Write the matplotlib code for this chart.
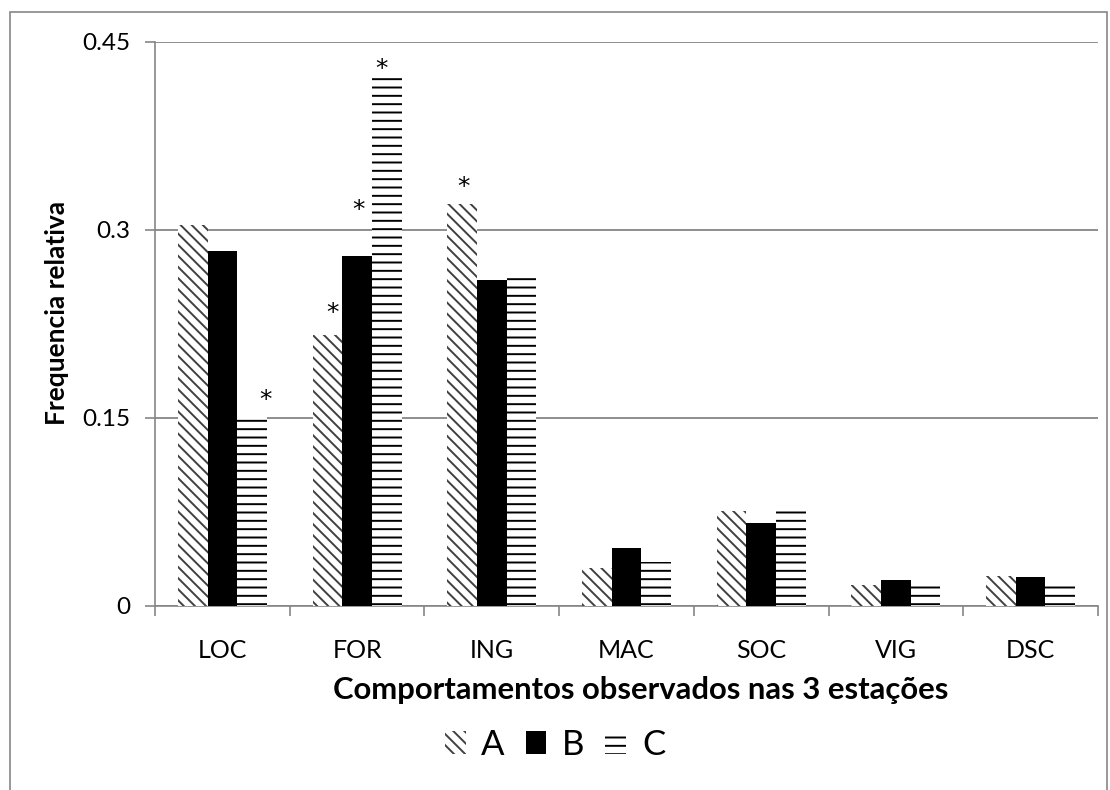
import matplotlib
matplotlib.use("Agg")
import numpy as np
import matplotlib.pyplot as plt
from matplotlib.patches import Rectangle, Patch

# values
categories = ["LOC", "FOR", "ING", "MAC", "SOC", "VIG", "DSC"]
series = ["A", "B", "C"]
vals_a = [0.304, 0.216, 0.321, 0.030, 0.076, 0.017, 0.024]
vals_b = [0.283, 0.279, 0.260, 0.046, 0.066, 0.021, 0.023]
vals_c = [0.151, 0.421, 0.262, 0.035, 0.078, 0.016, 0.017]
# significance marks: (series index, category index)
stars = [(2, 0), (0, 1), (1, 1), (2, 1), (0, 2)]
yticks = [0, 0.15, 0.3, 0.45]
ytick_labels = ["0", "0.15", "0.3", "0.45"]

# label offsets in points (dx, dy) for each star, same order as `stars`
star_offsets = [(10, 12), (4, 16), (1, 33), (-4, 7), (1, 12)]

plt.rcParams["font.family"] = ["Lato", "DejaVu Sans"]
plt.rcParams["hatch.linewidth"] = 1.4

fig = plt.figure(figsize=(11.1, 7.9), dpi=100)
ax = fig.add_axes([155 / 1110, 1 - 606 / 790, 943 / 1110, 564 / 790])

# outer chart frame
fig.patches.append(Rectangle((10 / 1110, -0.05), 1097 / 1110, 1.05 - 12 / 790,
                             transform=fig.transFigure, fill=False,
                             edgecolor="#868686", linewidth=1.2))

x = np.arange(len(categories))
w = 0.22
styles = [
    dict(color="white", edgecolor="#404040", hatch="\\\\\\", linewidth=0),
    dict(color="black", edgecolor="black", linewidth=0),
    dict(color="white", edgecolor="black", hatch="--", linewidth=0),
]
all_vals = [vals_a, vals_b, vals_c]
for i, (vals, st) in enumerate(zip(all_vals, styles)):
    ax.bar(x + (i - 1) * w, vals, width=w, zorder=3, **st)

for (si, ci), (dx, dy) in zip(stars, star_offsets):
    ax.annotate("*", (x[ci] + (si - 1) * w, all_vals[si][ci]),
                textcoords="offset points", xytext=(dx, dy),
                ha="center", va="center", fontsize=18, family="DejaVu Sans",
                zorder=4)

ax.set_xlim(-0.5, len(categories) - 0.5)
ax.set_ylim(0, 0.45)
ax.set_yticks(yticks)
ax.set_yticklabels(ytick_labels)
ax.set_xticks(x)
ax.set_xticklabels(categories)
ax.set_xticks(np.arange(len(categories) + 1) - 0.5, minor=True)
ax.tick_params(axis="x", which="major", length=0, pad=24, labelsize=18)
ax.tick_params(axis="x", which="minor", length=7, color="#868686", width=1.2)
ax.tick_params(axis="y", length=7, color="#868686", width=1.2, pad=11,
               labelsize=17.5)
ax.grid(axis="y", color="#868686", linewidth=1.3, zorder=0)
ax.set_axisbelow(True)
for s in ["top", "right"]:
    ax.spines[s].set_visible(False)
for s in ["left", "bottom"]:
    ax.spines[s].set_color("#868686")
    ax.spines[s].set_linewidth(1.2)

ax.set_ylabel("Frequencia relativa", fontsize=19, fontweight="bold")
ax.yaxis.set_label_coords(-(155 - 69) / 943, (606 - 313) / 564)
ax.set_xlabel("Comportamentos observados nas 3 estações", fontsize=22.3,
              fontweight="bold", labelpad=9)
ax.xaxis.set_label_coords((641 - 155) / 943, -(676 - 606) / 564)

handles = [Patch(facecolor=st["color"], edgecolor=st["edgecolor"],
                 hatch=st.get("hatch"), linewidth=0) for st in styles]
fig.legend(handles, series, loc="center", bbox_to_anchor=(555 / 1110, 1 - 745 / 790),
           ncol=3, frameon=False, fontsize=25, handlelength=0.6,
           handleheight=0.65, handletextpad=0.45, columnspacing=0.6)

fig.savefig("out.png", dpi=100)
